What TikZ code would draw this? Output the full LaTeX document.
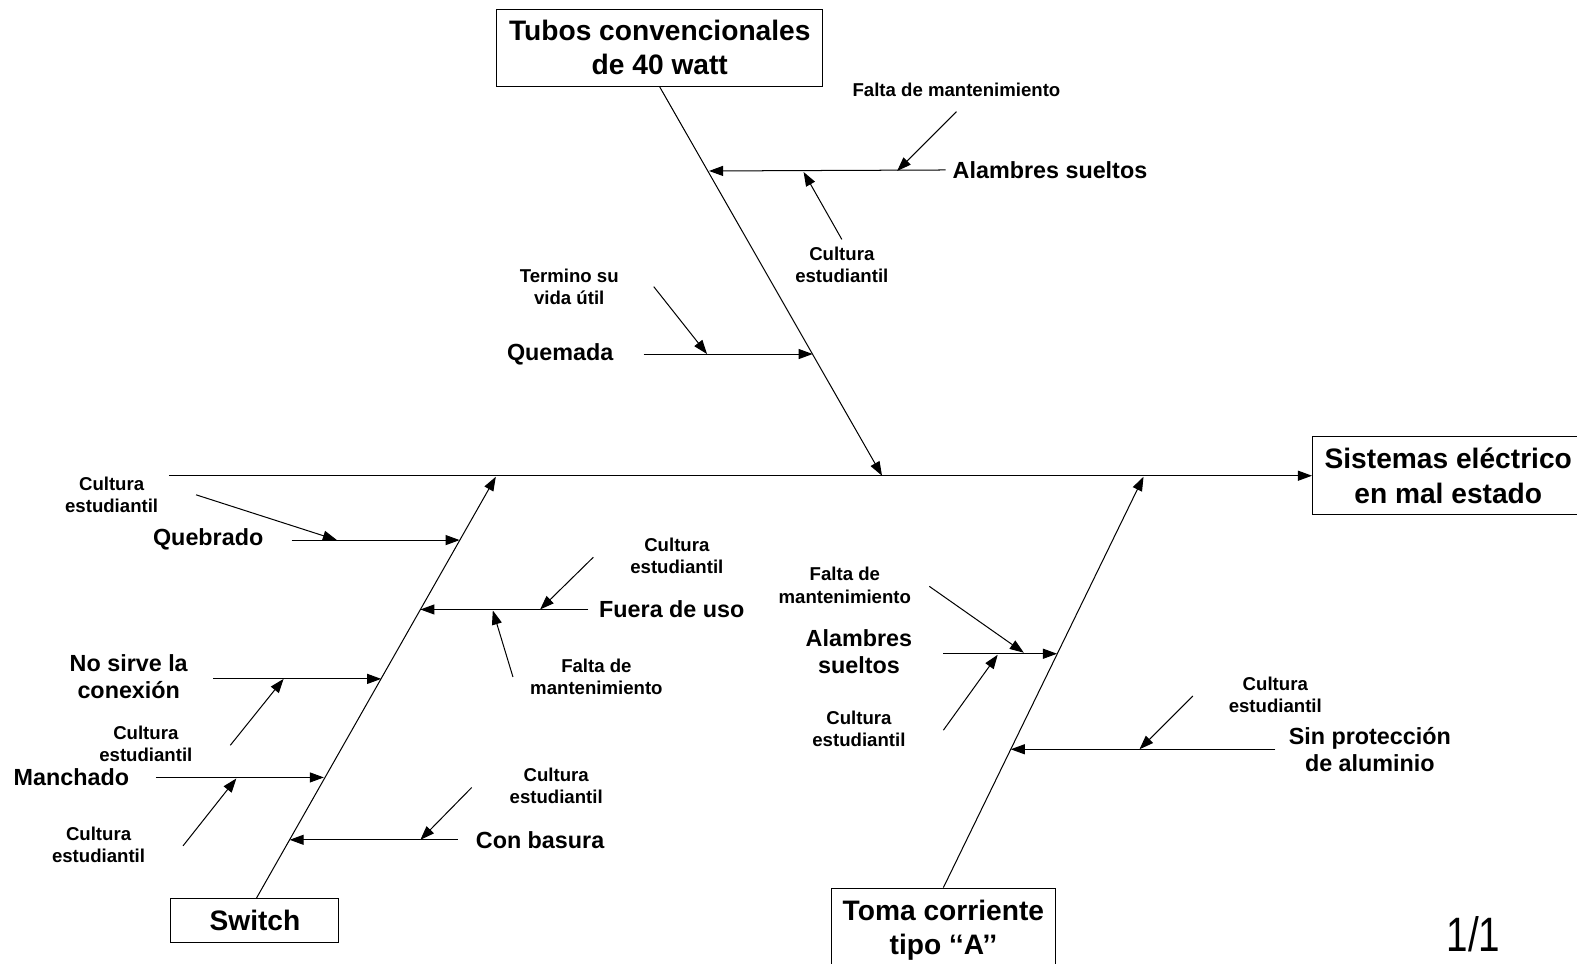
\documentclass[tikz,border=0pt]{standalone}
\usepackage{fontspec}
\setmainfont{Liberation Sans}
\newfontfamily\narrowfont[FakeStretch=0.8]{Liberation Sans}
\usetikzlibrary{arrows.meta}

\tikzset{
	bone/.style={line width=0.5pt, -{Triangle[length=7pt,width=5pt]}},
	head/.style={draw, line width=0.5pt, align=center, font=\fontsize{14}{17}\selectfont\bfseries},
	cause/.style={align=center, font=\fontsize{11.6}{13.5}\selectfont\bfseries},
	sub/.style={align=center, font=\fontsize{9.25}{11}\selectfont\bfseries},
}

\begin{document}
\begin{tikzpicture}[x=0.5pt,y=-0.5pt]
	\useasboundingbox (0,0) rectangle (1568,958);

	% Effect and spine
	\node[head, minimum width=135pt, minimum height=39pt] (efecto) at (1440,473) {Sistemas eléctrico\\en mal estado};
	\coordinate (cola) at (168,473);
	\draw[bone] (cola) -- (efecto.west);

	% Tubos convencionales
	\node[head, minimum width=162pt, minimum height=38.5pt] (tubos) at (656,47.5) {Tubos convencionales\\de 40 watt};
	\coordinate (tubosFin) at (877,473);
	\draw[bone] (tubos.south) -- (tubosFin);

	\node[cause] (alambres1) at (1044,169) {Alambres sueltos};
	\coordinate (alambres1F) at (705,170);
	\draw[bone] (alambres1.west) -- (alambres1F);
	\node[sub] (falta1) at (951,89) {Falta de mantenimiento};
	\coordinate (falta1I) at (951,111);
	\coordinate (falta1F) at (892,170);
	\draw[bone] (falta1I) -- (falta1F);
	\node[sub] (cultura1) at (837,263) {Cultura\\estudiantil};
	\coordinate (cultura1I) at (837,238);
	\coordinate (cultura1F) at (799,171);
	\draw[bone] (cultura1I) -- (cultura1F);

	\node[cause] (quemada) at (557,352) {Quemada};
	\coordinate (quemadaI) at (640,352);
	\coordinate (quemadaF) at (808,352);
	\draw[bone] (quemadaI) -- (quemadaF);
	\node[sub] (termino) at (566,285) {Termino su\\vida útil};
	\coordinate (terminoI) at (650,285);
	\coordinate (terminoF) at (703,352);
	\draw[bone] (terminoI) -- (terminoF);

	% Switch
	\node[head, minimum width=83.5pt, minimum height=22pt] (switch) at (253.5,915) {Switch};
	\coordinate (switchI) at (255,893);
	\coordinate (switchFin) at (493,474);
	\draw[bone] (switchI) -- (switchFin);

	\node[cause] (quebrado) at (207,536) {Quebrado};
	\coordinate (quebradoI) at (290,537);
	\coordinate (quebradoF) at (457,537);
	\draw[bone] (quebradoI) -- (quebradoF);
	\node[sub] (cultura2) at (111,492) {Cultura\\estudiantil};
	\coordinate (cultura2I) at (195,492);
	\coordinate (cultura2F) at (335,537);
	\draw[bone] (cultura2I) -- (cultura2F);

	\node[cause] (fuera) at (668,606) {Fuera de uso};
	\coordinate (fueraI) at (585,606);
	\coordinate (fueraF) at (418,606);
	\draw[bone] (fueraI) -- (fueraF);
	\node[sub] (cultura3) at (673,553) {Cultura\\estudiantil};
	\coordinate (cultura3I) at (590,554);
	\coordinate (cultura3F) at (537,606);
	\draw[bone] (cultura3I) -- (cultura3F);
	\node[sub] (falta2) at (593,673) {Falta de\\mantenimiento};
	\coordinate (falta2I) at (510,673);
	\coordinate (falta2F) at (490,607);
	\draw[bone] (falta2I) -- (falta2F);

	\node[cause] (nosirve) at (128,673) {No sirve la\\conexión};
	\coordinate (nosirveI) at (212,675);
	\coordinate (nosirveF) at (379,675);
	\draw[bone] (nosirveI) -- (nosirveF);
	\node[sub] (cultura4) at (145,740) {Cultura\\estudiantil};
	\coordinate (cultura4I) at (229,741);
	\coordinate (cultura4F) at (282,675);
	\draw[bone] (cultura4I) -- (cultura4F);

	\node[cause] (manchado) at (71,773) {Manchado};
	\coordinate (manchadoI) at (155,773);
	\coordinate (manchadoF) at (322,773);
	\draw[bone] (manchadoI) -- (manchadoF);
	\node[sub] (cultura5) at (98,840) {Cultura\\estudiantil};
	\coordinate (cultura5I) at (182,841);
	\coordinate (cultura5F) at (235,774);
	\draw[bone] (cultura5I) -- (cultura5F);

	\node[cause] (basura) at (537,835) {Con basura};
	\coordinate (basuraI) at (455,835);
	\coordinate (basuraF) at (288,835);
	\draw[bone] (basuraI) -- (basuraF);
	\node[sub] (cultura6) at (553,781) {Cultura\\estudiantil};
	\coordinate (cultura6I) at (469,783);
	\coordinate (cultura6F) at (418,835);
	\draw[bone] (cultura6I) -- (cultura6F);

	% Toma corriente
	\node[head, minimum width=111pt, minimum height=42pt] (toma) at (938,925) {Toma corriente\\tipo ‘‘A’’};
	\coordinate (tomaFin) at (1137,474);
	\draw[bone] (toma.north) -- (tomaFin);

	\node[cause] (alambres2) at (854,648) {Alambres\\sueltos};
	\coordinate (alambres2I) at (938,650);
	\coordinate (alambres2F) at (1051,650);
	\draw[bone] (alambres2I) -- (alambres2F);
	\node[sub] (falta3) at (840,582) {Falta de\\mantenimiento};
	\coordinate (falta3I) at (924,583);
	\coordinate (falta3F) at (1018,649);
	\draw[bone] (falta3I) -- (falta3F);
	\node[sub] (cultura7) at (854,725) {Cultura\\estudiantil};
	\coordinate (cultura7I) at (938,726);
	\coordinate (cultura7F) at (992,651);
	\draw[bone] (cultura7I) -- (cultura7F);

	\node[cause] (proteccion) at (1362,745) {Sin protección\\de aluminio};
	\coordinate (proteccionI) at (1268,745);
	\coordinate (proteccionF) at (1005,745);
	\draw[bone] (proteccionI) -- (proteccionF);
	\node[sub] (cultura8) at (1268,691) {Cultura\\estudiantil};
	\coordinate (cultura8I) at (1186,692);
	\coordinate (cultura8F) at (1133,745);
	\draw[bone] (cultura8I) -- (cultura8F);

	% Page number
	\node[font=\narrowfont\fontsize{24}{28}\selectfont] (pagina) at (1465,929) {1/1};
\end{tikzpicture}
\end{document}
